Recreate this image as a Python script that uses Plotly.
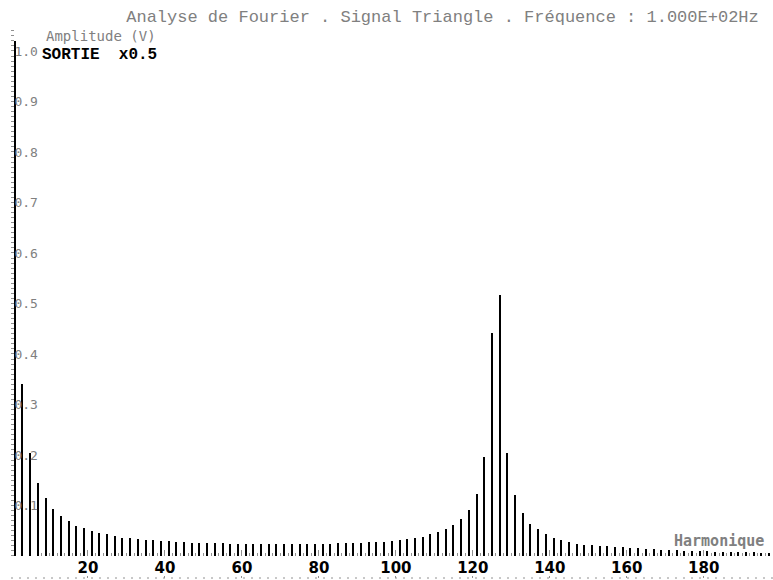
import plotly.graph_objects as go

# ---- data ----
harmonics = list(range(1, 198, 2))
amplitudes = [
    1.02, 0.340, 0.203, 0.145, 0.115, 0.093, 0.080, 0.069, 0.060, 0.055,   # 1..19
    0.050, 0.046, 0.043, 0.039, 0.036, 0.035, 0.034, 0.032, 0.031, 0.030,  # 21..39
    0.029, 0.028, 0.027, 0.026, 0.026, 0.025, 0.025, 0.025, 0.024, 0.024,  # 41..59
    0.024, 0.023, 0.023, 0.023, 0.023, 0.023, 0.023, 0.023, 0.023, 0.024,  # 61..79
    0.024, 0.024, 0.025, 0.025, 0.026, 0.026, 0.027, 0.028, 0.028, 0.029,  # 81..99
    0.032, 0.033, 0.036, 0.038, 0.043, 0.047, 0.053, 0.062, 0.074, 0.092,  # 101..119
    0.123, 0.197, 0.441, 0.517, 0.204, 0.121, 0.086, 0.064, 0.053, 0.043,  # 121..139
    0.036, 0.032, 0.028, 0.024, 0.022, 0.021, 0.020, 0.019, 0.018, 0.017,  # 141..159
    0.016, 0.015, 0.014, 0.013, 0.012, 0.012, 0.011, 0.010, 0.010, 0.009,  # 161..179
    0.009, 0.008, 0.008, 0.008, 0.007, 0.007, 0.007, 0.006, 0.006,        # 181..197
]
assert len(harmonics) == len(amplitudes)

x_tick_vals = [20, 40, 60, 80, 100, 120, 140, 160, 180]
x_tick_text = ["20", "40", "60", "80", "100", "120", "140", "160", "180"]
y_tick_vals = [0.1, 0.2, 0.3, 0.4, 0.5, 0.6, 0.7, 0.8, 0.9, 1.0]
y_tick_text = ["0.1", "0.2", "0.3", "0.4", "0.5", "0.6", "0.7", "0.8", "0.9", "1.0"]

title_text = "Analyse de Fourier . Signal Triangle . Fréquence : 1.000E+02Hz"
y_label = "Amplitude (V)"
x_label = "Harmonique"
series_label = "SORTIE  x0.5"

# ---- layout constants ----
W, H = 773, 580
ML, MR, MT, MB = 11, 0, 27, 2
x_range = [0, 198]
y_range = [-0.0436, 1.0475]
GRAY = "#808080"
TICKGRAY = "#909090"

baseline_pos = (0 - y_range[0]) / (y_range[1] - y_range[0])

fig = go.Figure()
fig.add_trace(go.Bar(
    x=harmonics, y=amplitudes, width=0.32,
    marker=dict(color="black", line=dict(width=0)),
    hoverinfo="x+y", showlegend=False,
))
# anchor trace for the baseline tick axis (invisible)
fig.add_trace(go.Scatter(
    x=[harmonics[0]], y=[0], xaxis="x2", mode="markers",
    marker=dict(size=0, opacity=0), hoverinfo="skip", showlegend=False,
))

fig.update_layout(
    width=W, height=H, autosize=False,
    margin=dict(l=ML, r=MR, t=MT, b=MB, pad=0),
    paper_bgcolor="white", plot_bgcolor="white",
    bargap=0,
    title=dict(
        text=title_text, x=442.5 / W, xanchor="center",
        y=1 - 16 / H, yanchor="middle",
        font=dict(family="Liberation Mono", size=17, color=GRAY),
    ),
    xaxis=dict(
        range=x_range, showgrid=False, zeroline=False, showline=False,
        tickmode="array", tickvals=x_tick_vals, ticktext=x_tick_text,
        ticks="inside", ticklen=2, tickcolor=TICKGRAY, tickwidth=1,
        ticklabelposition="inside",
        tickfont=dict(family="DejaVu Sans", size=15, color="black", weight="bold"),
        fixedrange=True,
    ),
    xaxis2=dict(
        overlaying="x", matches="x", anchor="free", position=baseline_pos,
        side="bottom", range=x_range,
        showgrid=False, zeroline=False, showline=False, showticklabels=False,
        tickmode="linear", tick0=0, dtick=20,
        ticks="inside", ticklen=6, tickcolor=TICKGRAY, tickwidth=1,
        minor=dict(ticks="inside", tick0=0, dtick=2, ticklen=3,
                   tickcolor=TICKGRAY, tickwidth=1, showgrid=False),
        fixedrange=True,
    ),
    yaxis=dict(
        range=y_range, showgrid=False, zeroline=False, showline=False,
        tickmode="array", tickvals=y_tick_vals, ticktext=y_tick_text,
        ticks="inside", ticklen=3, tickcolor=TICKGRAY, tickwidth=1,
        ticklabelposition="inside",
        tickfont=dict(family="DejaVu Sans Mono", size=13, color=GRAY),
        minor=dict(ticks="inside", tick0=0, dtick=0.01, ticklen=3,
                   tickcolor=TICKGRAY, tickwidth=1, showgrid=False),
        fixedrange=True,
    ),
    shapes=[dict(
        type="line", xref="paper", yref="paper", x0=0, x1=1, y0=0, y1=0,
        line=dict(color=TICKGRAY, width=1, dash="2px,6px"),
    )],
    annotations=[
        dict(text=y_label, xref="paper", yref="paper",
             x=(44 - ML) / (W - ML - MR), xanchor="left",
             y=(H - MB - 36) / (H - MT - MB), yanchor="middle",
             showarrow=False,
             font=dict(family="DejaVu Sans Mono", size=14, color=GRAY)),
        dict(text=series_label, xref="paper", yref="paper",
             x=(40 - ML) / (W - ML - MR), xanchor="left",
             y=(H - MB - 55) / (H - MT - MB), yanchor="middle",
             showarrow=False,
             font=dict(family="Liberation Mono", size=16, color="black", weight="bold")),
        dict(text=x_label, xref="paper", yref="paper",
             x=(672 - ML) / (W - ML - MR), xanchor="left",
             y=(H - MB - 541) / (H - MT - MB), yanchor="middle",
             showarrow=False,
             font=dict(family="DejaVu Sans Mono", size=15, color=GRAY, weight="bold")),
    ],
)

fig.write_html(
    "out.html",
    config={"displayModeBar": False, "staticPlot": False},
    post_script=(
        "document.documentElement.style.margin='0';"
        "document.body.style.margin='0';"
        "document.body.style.overflow='hidden';"
    ),
)
